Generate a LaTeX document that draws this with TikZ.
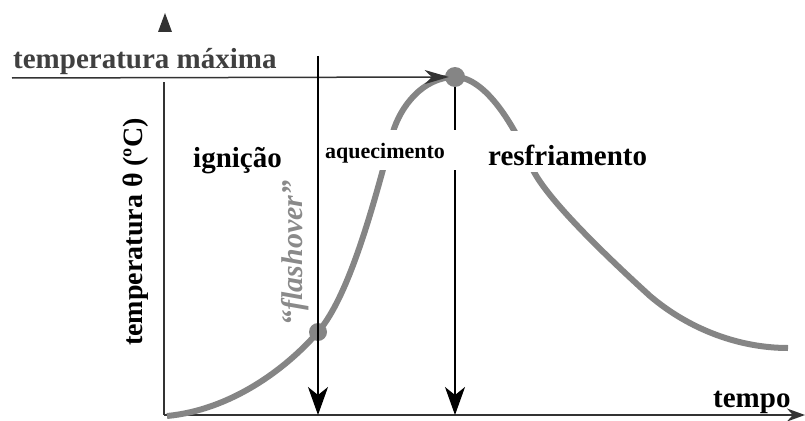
\documentclass[tikz,border=0pt]{standalone}
\usepackage{fontspec}
\setmainfont{Liberation Serif}
\usetikzlibrary{arrows.meta}
\definecolor{curvegray}{HTML}{858585}
\definecolor{axisgray}{HTML}{333333}
\definecolor{textgray}{HTML}{404040}
\definecolor{flashgray}{HTML}{8A8A8A}
\begin{document}
\begin{tikzpicture}[x=1pt,y=-1pt,
  lbl/.style={font=\fontsize{29}{29}\selectfont\bfseries, inner sep=0pt, anchor=base west},
  small/.style={font=\fontsize{22}{22}\selectfont\bfseries, inner sep=0pt, anchor=base west},
  fire/.style={line width=6pt, draw=curvegray},
  dot/.style={circle, fill=curvegray, inner sep=0pt},
  axis/.style={line width=2pt, draw=axisgray},
  guide/.style={line width=1.3pt, draw=black},
  mask/.style={fill=white, draw=none}]
\useasboundingbox (0,0) rectangle (805,420);
% axes
\coordinate (o) at (164,415);
\coordinate (ytop) at (164,82);
\coordinate (xend) at (805,415);
\draw[axis] (o) -- (ytop);
\fill[axisgray] (165,13) -- (158,32) -- (172,32) -- cycle;
\draw[axis, -{Stealth[length=18pt,width=13pt]}] (o) -- (xend);
% fire curve
\coordinate (c0) at (167,416);
\coordinate (cf) at (318,332);
\coordinate (c1) at (393,132);
\coordinate (cp) at (455,77);
\coordinate (c2) at (533,170);
\coordinate (c3) at (650,296);
\coordinate (c4) at (788,348);
\draw[fire] (c0) .. controls (230,410) and (285,370) .. (cf)
  .. controls (350,295) and (375,200) .. (c1)
  .. controls (400,108) and (422,77) .. (cp)
  .. controls (485,77) and (515,125) .. (c2)
  .. controls (548,200) and (605,255) .. (c3)
  .. controls (690,330) and (740,348) .. (c4);
% points
\node[dot, minimum size=18pt] (flash) at (cf) {};
\node[dot, minimum size=20pt] (peak) at (cp) {};
\coordinate (peakfoot) at (455,415);
\draw[guide, -{Stealth[length=28pt,width=20pt,inset=8pt]}] (peak.south) -- (peakfoot);
% masks for labels
\fill[mask] (321,130) rectangle (461,170);
\fill[mask] (486,131) rectangle (656,172);
% max temperature line
\coordinate (maxstart) at (12,78);
\draw[line width=1.5pt, draw=axisgray, -{Stealth[length=24pt,width=14pt,inset=7pt]}, shorten >=-4pt] (maxstart) -- (peak.west);
% flashover guide
\coordinate (ftop) at (318,56);
\coordinate (ffoot) at (318,415);
\draw[guide, -{Stealth[length=28pt,width=20pt,inset=8pt]}] (ftop) -- (ffoot);
% labels
\node[lbl, text=textgray] (tmax) at (13,68) {temperatura máxima};
\node[lbl] (ign) at (193,167) {ignição};
\node[small] (aq) at (325,158) {aquecimento};
\node[lbl] (resf) at (488,165) {resfriamento};
\node[lbl] (tempo) at (713,407) {tempo};
\node[font=\fontsize{28}{28}\selectfont\bfseries, inner sep=0pt, rotate=90] (ylab) at (136,232) {temperatura θ (ºC)};
\node[font=\fontsize{30}{30}\selectfont\bfseries\itshape, text=flashgray, inner sep=0pt, rotate=90] (flab) at (295,253) {“flashover”};
\end{tikzpicture}
\end{document}
